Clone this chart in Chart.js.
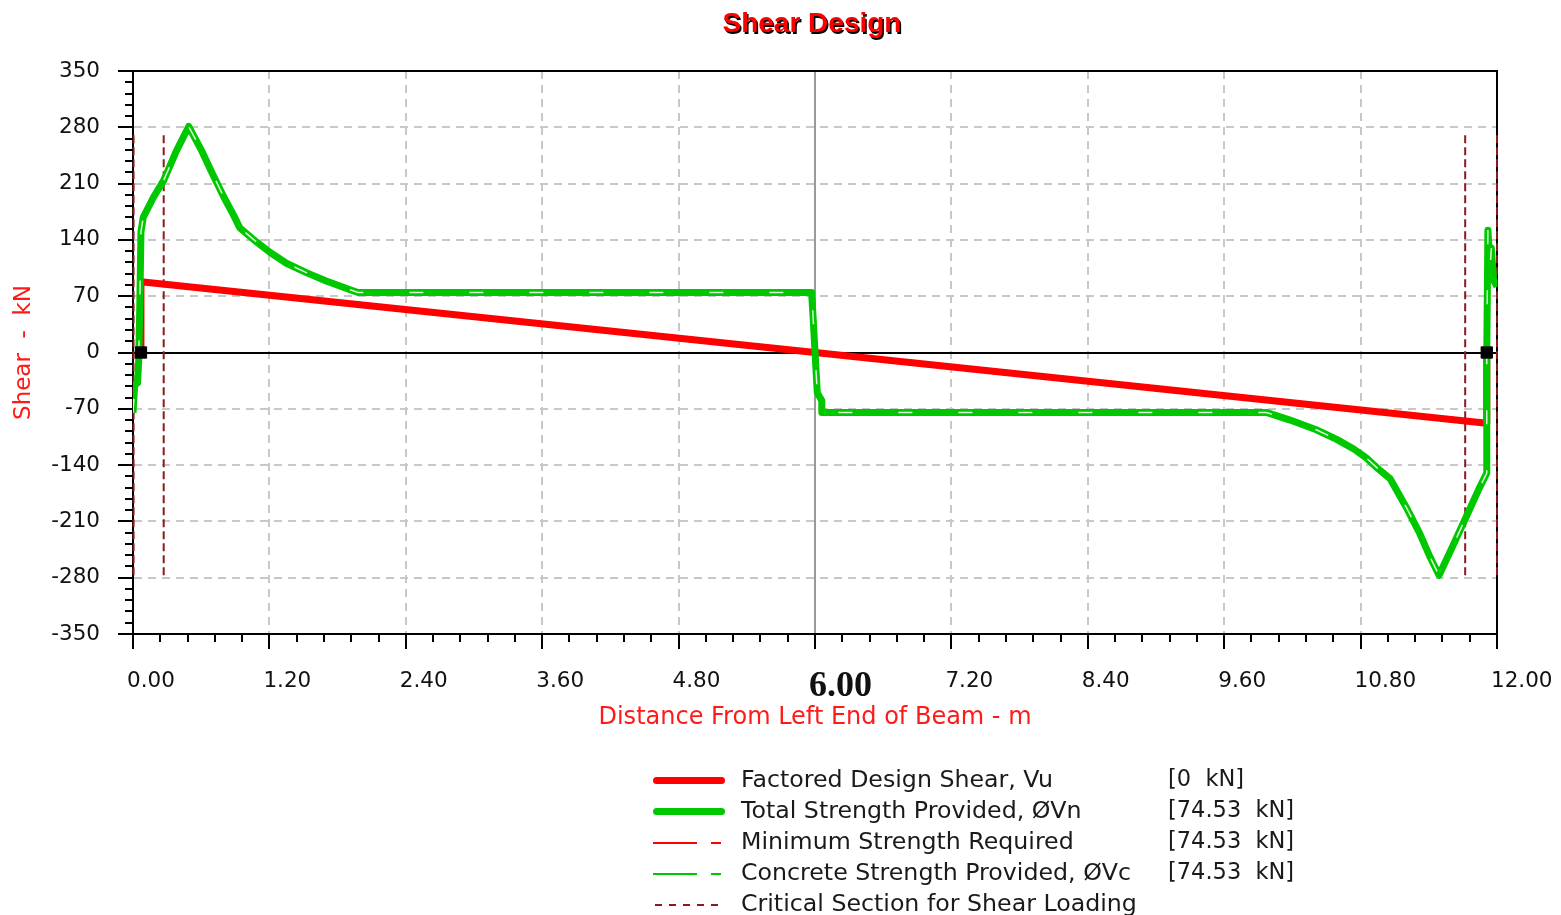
<!DOCTYPE html>
<html>
<head>
<meta charset="utf-8">
<title>Shear Design</title>
<script src="https://cdn.jsdelivr.net/npm/chart.js@4/dist/chart.umd.min.js"></script>
<style>
  body { margin: 0; background: #fff; }
  #wrap { position: relative; width: 1561px; height: 915px; overflow: hidden; }
  #chartTitle {
    position: absolute; left: 612px; top: 7px; width: 400px; text-align: center;
    font: bold 28px "Liberation Sans", Arial, sans-serif; color: #ff0000;
    text-shadow: 1.5px 1.5px 0 #000;
  }
  .lg-text {
    position: absolute; height: 31px; line-height: 31px; white-space: pre;
    font: 23.7px "DejaVu Sans", sans-serif; color: #1a1a1a;
  }
  .lg-value { font-size: 22.5px; }
  .lg-swatch { position: absolute; }
</style>
</head>
<body>
<div id="wrap">
  <canvas id="shearChart" width="1561" height="915"></canvas>
  <div id="chartTitle">Shear Design</div>
  <div id="legend"></div>
</div>
<script>
// distances along the beam (m) and shear values (kN)
const vuX = [0.07, 0.07, 6.0, 11.91, 11.91];
const vuY = [0, 88, 0, -88, 0];

const vnX = [0.00, 0.015, 0.04, 0.05, 0.06, 0.07, 0.09, 0.18, 0.27, 0.38, 0.49,
  0.60, 0.70, 0.80, 0.88, 0.94, 1.09, 1.21, 1.35, 1.53, 1.70, 1.91, 1.98,
  5.97, 5.98, 6.02, 6.06, 6.06,
  9.97, 10.18, 10.41, 10.59, 10.74, 10.85, 10.95, 11.06, 11.20, 11.32, 11.41, 11.49,
  11.61, 11.73, 11.85, 11.91, 11.91, 11.92, 11.94, 11.95, 11.97, 12.0];
const vnY = [-75, -40, -38, -10, 60, 150, 168, 193, 214, 250, 281,
  252, 222, 193, 172, 155, 137, 124, 111, 99, 89, 78, 74.53,
  74.53, 52, -50, -60, -74.53,
  -74.53, -84, -96, -108, -120, -131, -144, -157, -192, -225, -254, -277,
  -241, -204, -167, -150, 0, 152, 105, 130, 90, 82];

// minimum strength and concrete strength coincide with the provided strength
const minReqY = vnY;
const vcY = vnY;

const criticalX = [0.005, 0.27, 11.72, 12.0];
const criticalTop = 270;
const criticalBottom = -280;

const supportX = [0.07, 11.91];

const xTicks = { min: 0, max: 12, step: 1.2, minor: 0.24 };
const yTicks = { min: -350, max: 350, step: 70, minor: 14 };

const legendLabels = [
  "Factored Design Shear, Vu",
  "Total Strength Provided, \u00d8Vn",
  "Minimum Strength Required",
  "Concrete Strength Provided, \u00d8Vc",
  "Critical Section for Shear Loading"
];
const legendValues = ["[0  kN]", "[74.53  kN]", "[74.53  kN]", "[74.53  kN]", ""];

const RED = "#ff0000";
const GREEN = "#00c800";
const DARKRED = "#8c1c1c";

const toPoints = (xs, ys) => xs.map((x, i) => ({ x: x, y: ys[i] }));

const criticalPts = [];
criticalX.forEach((x) => {
  criticalPts.push({ x: x, y: criticalTop }, { x: x, y: criticalBottom }, { x: x, y: null });
});

const isSix = (c) => c.tick && Math.abs(c.tick.value - 6) < 1e-9;
const isZero = (c) => c.tick && Math.abs(c.tick.value) < 1e-9;

const minorTicks = {
  id: "minorTicks",
  afterDraw(chart) {
    const { ctx, chartArea: a, scales } = chart;
    ctx.save();
    ctx.strokeStyle = "#000";
    ctx.lineWidth = 2;
    ctx.beginPath();
    const ny = Math.round((yTicks.max - yTicks.min) / yTicks.minor);
    for (let k = 0; k <= ny; k++) {
      if (k % 5 === 0) continue;
      const py = Math.round(scales.y.getPixelForValue(yTicks.min + k * yTicks.minor));
      ctx.moveTo(a.left - 8, py);
      ctx.lineTo(a.left, py);
    }
    const nx = Math.round((xTicks.max - xTicks.min) / xTicks.minor);
    for (let k = 0; k <= nx; k++) {
      if (k % 5 === 0) continue;
      const px = Math.round(scales.x.getPixelForValue(xTicks.min + k * xTicks.minor));
      ctx.moveTo(px, a.bottom);
      ctx.lineTo(px, a.bottom + 8);
    }
    ctx.stroke();
    ctx.restore();
  }
};

const frame = {
  id: "frame",
  beforeDatasetsDraw(chart) {
    const { ctx, chartArea: a } = chart;
    ctx.save();
    ctx.strokeStyle = "#000";
    ctx.lineWidth = 2;
    ctx.beginPath();
    ctx.moveTo(a.left, a.top);
    ctx.lineTo(a.right, a.top);
    ctx.lineTo(a.right, a.bottom);
    ctx.stroke();
    ctx.restore();
  }
};

new Chart(document.getElementById("shearChart"), {
  type: "line",
  data: {
    datasets: [
      {
        label: "Supports",
        data: supportX.map((x) => ({ x: x, y: 0 })),
        showLine: false,
        pointStyle: "rect",
        pointRadius: 8,
        backgroundColor: "#000",
        borderColor: "#000",
        order: 0
      },
      {
        label: "highlight",
        data: toPoints(vnX, vnY),
        borderColor: "rgba(255,255,255,0.85)",
        borderWidth: 1.5,
        borderDash: [14, 46],
        pointRadius: 0,
        order: 1
      },
      {
        label: "Total Strength Provided",
        data: toPoints(vnX, vnY),
        borderColor: GREEN,
        borderWidth: 7,
        borderJoinStyle: "round",
        pointRadius: 0,
        order: 2
      },
      {
        label: "Concrete Strength Provided",
        data: toPoints(vnX, vcY),
        borderColor: GREEN,
        borderWidth: 2,
        borderDash: [40, 14, 10, 14],
        pointRadius: 0,
        order: 3
      },
      {
        label: "Minimum Strength Required",
        data: toPoints(vnX, minReqY),
        borderColor: RED,
        borderWidth: 2,
        borderDash: [40, 14, 10, 14],
        pointRadius: 0,
        order: 4
      },
      {
        label: "Factored Design Shear",
        data: toPoints(vuX, vuY),
        borderColor: RED,
        borderWidth: 7,
        borderJoinStyle: "bevel",
        pointRadius: 0,
        order: 5
      },
      {
        label: "Critical Section",
        data: criticalPts,
        borderColor: DARKRED,
        borderWidth: 2,
        borderDash: [8, 4],
        pointRadius: 0,
        spanGaps: false,
        clip: false,
        order: 6
      }
    ]
  },
  options: {
    responsive: false,
    animation: false,
    layout: { padding: { left: 0, top: 71, right: 64, bottom: 183 } },
    elements: { line: { tension: 0 } },
    plugins: {
      legend: { display: false },
      tooltip: { enabled: false }
    },
    scales: {
      x: {
        type: "linear",
        min: xTicks.min,
        max: xTicks.max,
        afterFit: (s) => {
          s.height = 98;
          s.paddingLeft = 0;
          s.paddingRight = 0;
        },
        border: { color: "#000", width: 2, dash: (c) => (isSix(c) ? [] : [8, 6]) },
        grid: {
          color: (c) => (isSix(c) ? "#9a9a9a" : "#c8c8c8"),
          lineWidth: 2,
          tickColor: "#000",
          tickWidth: 2,
          tickLength: 15
        },
        ticks: {
          stepSize: xTicks.step,
          align: "start",
          labelOffset: -6,
          padding: 20,
          color: "#111",
          maxRotation: 0,
          autoSkip: false,
          font: (c) => (isSix(c)
            ? { family: "'Liberation Serif', 'Times New Roman', serif", size: 36, weight: "bold", lineHeight: 1 }
            : { family: "'DejaVu Sans', sans-serif", size: 21.5 }),
          callback: (v) => Number(v).toFixed(2)
        },
        title: {
          display: true,
          text: "Distance From Left End of Beam - m",
          color: "#ff1a1a",
          font: { family: "'DejaVu Sans', sans-serif", size: 24 },
          padding: { top: 0, bottom: 0 }
        }
      },
      y: {
        min: yTicks.min,
        max: yTicks.max,
        afterFit: (s) => { s.width = 133; },
        border: { color: "#000", width: 2, dash: (c) => (isZero(c) ? [] : [8, 6]) },
        grid: {
          color: (c) => (isZero(c) ? "#000" : "#c8c8c8"),
          lineWidth: 2,
          tickColor: "#000",
          tickWidth: 2,
          tickLength: 15
        },
        ticks: {
          stepSize: yTicks.step,
          padding: 18,
          color: "#111",
          font: { family: "'DejaVu Sans', sans-serif", size: 21.5 },
          callback: (v) => String(v)
        },
        title: {
          display: true,
          text: "Shear  -  kN",
          color: "#ff1a1a",
          font: { family: "'DejaVu Sans', sans-serif", size: 23 },
          padding: { top: 10, bottom: 0 }
        }
      }
    }
  },
  plugins: [frame, minorTicks]
});

// legend below the chart
const legendStyles = [
  { kind: "thick", color: RED },
  { kind: "thick", color: GREEN },
  { kind: "dashdot", color: RED },
  { kind: "dashdot", color: GREEN },
  { kind: "dotted", color: DARKRED }
];
const legend = document.getElementById("legend");
const addBox = (left, top, w, h, css) => {
  const d = document.createElement("div");
  d.className = "lg-swatch";
  d.style.cssText = `left:${left}px;top:${top}px;width:${w}px;height:${h}px;` + css;
  legend.appendChild(d);
};
legendLabels.forEach((label, i) => {
  const rowTop = 765 + 31 * i;
  const mid = rowTop + 15.5;
  const st = legendStyles[i];
  if (st.kind === "thick") {
    addBox(653, mid - 3.5, 72, 7, `background:${st.color};border-radius:4px;`);
  } else if (st.kind === "dashdot") {
    addBox(653, mid - 1, 44, 2, `background:${st.color};`);
    addBox(711, mid - 1, 10, 2, `background:${st.color};`);
  } else {
    addBox(655, mid - 1, 70, 2,
      `background:repeating-linear-gradient(to right, ${st.color} 0 7px, transparent 7px 14px);`);
  }
  const t = document.createElement("div");
  t.className = "lg-text";
  t.style.left = "741px";
  t.style.top = rowTop + "px";
  t.textContent = label;
  legend.appendChild(t);
  if (legendValues[i]) {
    const v = document.createElement("div");
    v.className = "lg-text lg-value";
    v.style.left = "1168px";
    v.style.top = rowTop + "px";
    v.textContent = legendValues[i];
    legend.appendChild(v);
  }
});
</script>
</body>
</html>
